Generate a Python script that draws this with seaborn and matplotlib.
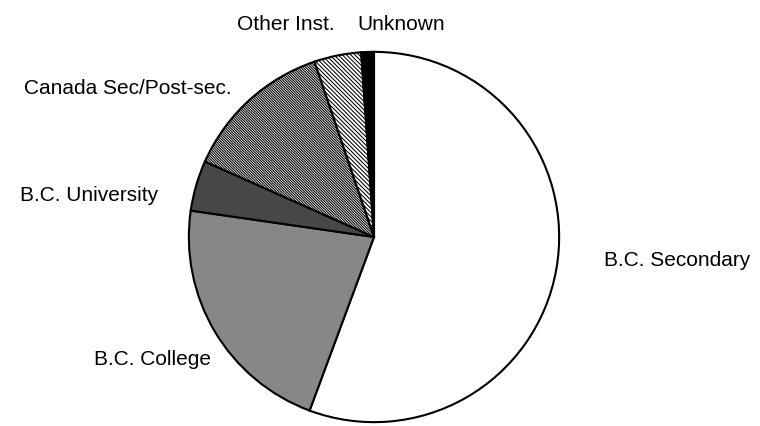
import matplotlib
matplotlib.use("Agg")
import matplotlib.pyplot as plt
import seaborn as sns

sns.set_theme(style="white")
plt.rcParams['font.family'] = ['Liberation Sans', 'DejaVu Sans']
plt.rcParams['hatch.linewidth'] = 0.75

# Data (percent shares, clockwise from 12 o'clock)
categories = ["B.C. Secondary", "B.C. College", "B.C. University",
              "Canada Sec/Post-sec.", "Other Inst.", "Unknown"]
shares = [55.6, 21.6, 4.4, 13.1, 4.1, 1.1]

face_colors = ["#ffffff", "#878787", "#474747", "#ffffff", "#ffffff", "#000000"]
hatches = [None, None, None, "\\" * 13, "\\" * 8, None]

W, H = 760, 427
fig = plt.figure(figsize=(W / 100, H / 100), dpi=100)
fig.patch.set_facecolor("white")

cx, cy, r = 374, 238, 187
ax = fig.add_axes([(cx - r) / W, (H - cy - r) / H, 2 * r / W, 2 * r / H])
wedges, _ = ax.pie(shares, startangle=90, counterclock=False, radius=1,
                   colors=face_colors,
                   wedgeprops=dict(edgecolor="black", linewidth=1.5))
for w, h in zip(wedges, hatches):
    if h:
        w.set_hatch(h)
ax.set_xlim(-1.01, 1.01)
ax.set_ylim(-1.01, 1.01)
ax.set_aspect("equal")
ax.axis("off")

# label placement (pixel centers / baselines)
label_pos = {
    "B.C. Secondary": (677.5, 265.5),
    "B.C. College": (152, 365),
    "B.C. University": (89.5, 201),
    "Canada Sec/Post-sec.": (127.5, 94),
    "Other Inst.": (286, 29.5),
    "Unknown": (401, 29.5),
}
for name in categories:
    px, py = label_pos[name]
    fig.text(px / W, 1 - py / H, name, ha="center", va="baseline",
             fontsize=15, color="black")

fig.savefig("out.png", dpi=100, facecolor="white")
